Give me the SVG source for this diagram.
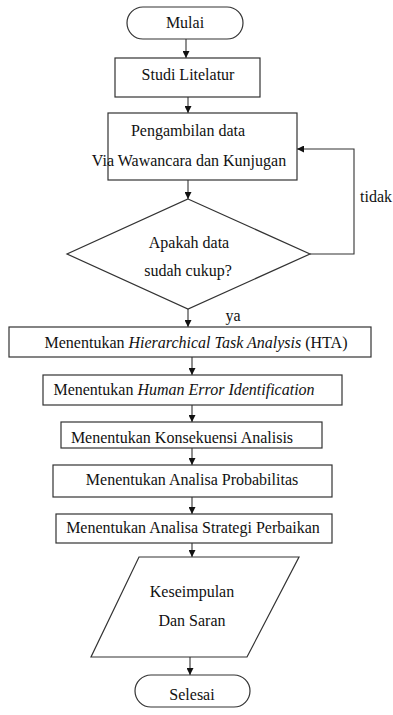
<svg xmlns="http://www.w3.org/2000/svg" width="393" height="715" viewBox="0 0 393 715">
<style>
.s{fill:#fff;stroke:#333;stroke-width:1.2}
.t{font-family:"Liberation Serif","Times New Roman",serif;font-size:16px;fill:#111;text-anchor:middle}
.c{fill:none;stroke:#333;stroke-width:1.1}
</style>
<defs>
<marker id="a" viewBox="0 0 10 10" refX="10" refY="5" markerWidth="7" markerHeight="7" markerUnits="userSpaceOnUse" orient="auto"><path d="M0,0 L10,5 L0,10 z" fill="#111"/></marker>
</defs>
<rect width="393" height="715" fill="#fff"/>
<g id="connectors">
<path class="c" d="M186,39 V58" marker-end="url(#a)"/>
<path class="c" d="M188,97 V113" marker-end="url(#a)"/>
<path class="c" d="M188,180 V199" marker-end="url(#a)"/>
<path class="c" d="M310,254 H354 V149 H297" marker-end="url(#a)"/>
<path class="c" d="M188,309 V327" marker-end="url(#a)"/>
<path class="c" d="M192,357 V375" marker-end="url(#a)"/>
<path class="c" d="M192,405 V422" marker-end="url(#a)"/>
<path class="c" d="M192,448 V465" marker-end="url(#a)"/>
<path class="c" d="M192,497 V514" marker-end="url(#a)"/>
<path class="c" d="M192,543 V557" marker-end="url(#a)"/>
<path class="c" d="M190,657 V675" marker-end="url(#a)"/>
<text class="t" x="233" y="321">ya</text>
<text class="t" x="360" y="202" style="text-anchor:start">tidak</text>
</g>
<g id="mulai"><rect class="s" x="127" y="7" width="116" height="32" rx="16"/><text class="t" x="185" y="28">Mulai</text></g>
<g id="studi"><rect class="s" x="115" y="58" width="145" height="39"/><text class="t" x="188" y="80">Studi Litelatur</text></g>
<g id="pengambilan"><rect class="s" x="108" y="113" width="189" height="67"/><text class="t" x="188" y="136">Pengambilan data</text><text class="t" x="189" y="166">Via Wawancara dan Kunjugan</text></g>
<g id="keputusan"><polygon class="s" points="188,199 310,254 188,309 67,254"/><text class="t" x="189" y="248">Apakah data</text><text class="t" x="188" y="276">sudah cukup?</text></g>
<g id="hta"><rect class="s" x="9" y="327" width="362" height="30"/><text class="t" x="196" y="348">Menentukan <tspan font-style="italic">Hierarchical Task Analysis</tspan> (HTA)</text></g>
<g id="hei"><rect class="s" x="43" y="375" width="299" height="30"/><text class="t" x="184" y="395">Menentukan <tspan font-style="italic">Human Error Identification</tspan></text></g>
<g id="konsekuensi"><rect class="s" x="61" y="422" width="261" height="26"/><text class="t" x="182" y="443">Menentukan Konsekuensi Analisis</text></g>
<g id="probabilitas"><rect class="s" x="53" y="465" width="279" height="32"/><text class="t" x="192" y="485">Menentukan Analisa Probabilitas</text></g>
<g id="strategi"><rect class="s" x="56" y="514" width="276" height="29"/><text class="t" x="193" y="533">Menentukan Analisa Strategi Perbaikan</text></g>
<g id="kesimpulan"><polygon class="s" points="139,557 299,557 247,657 91,657"/><text class="t" x="192" y="597">Keseimpulan</text><text class="t" x="192" y="626">Dan Saran</text></g>
<g id="selesai"><rect class="s" x="135" y="675" width="115" height="32" rx="16"/><text class="t" x="192" y="700">Selesai</text></g>
</svg>
